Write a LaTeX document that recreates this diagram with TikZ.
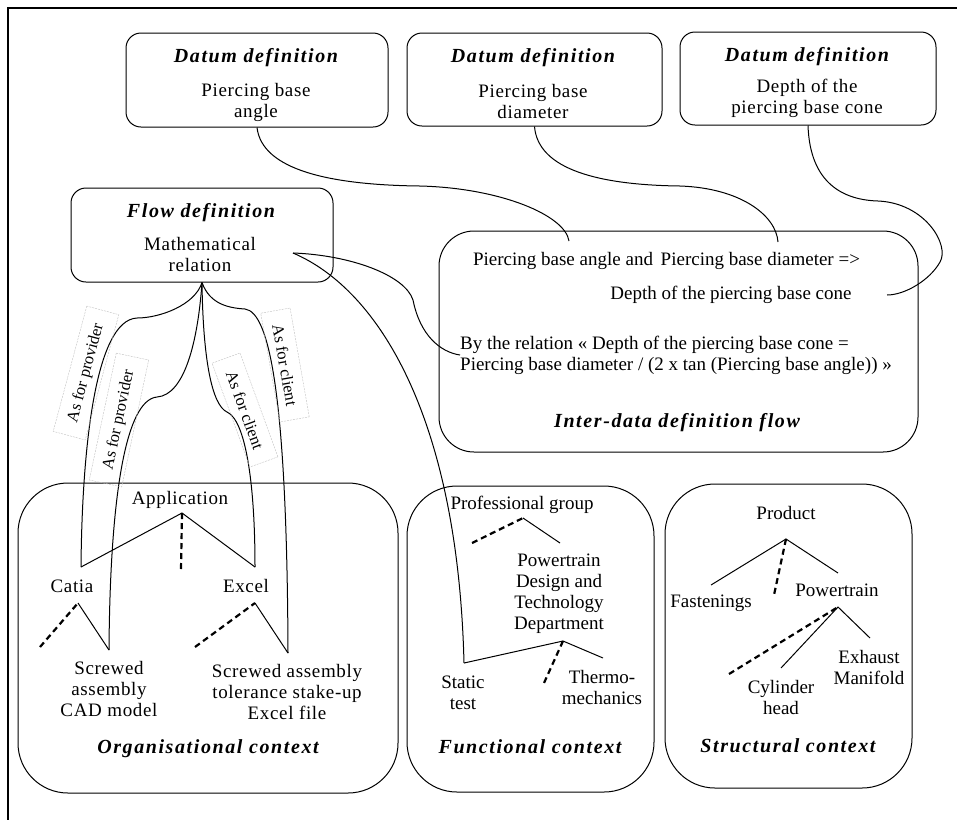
\documentclass[tikz,border=0pt]{standalone}
\usepackage{fontspec}
\setmainfont{Liberation Serif}
\newfontfamily\titlefont[LetterSpace=8]{Liberation Serif}
\newfontfamily\spacedfont[LetterSpace=3.5]{Liberation Serif}

\begin{document}
\begin{tikzpicture}[x=10pt,y=10pt,
    every node/.style={inner sep=0pt, align=center, font=\fontsize{19}{21}\selectfont},
    spaced/.style={font=\spacedfont\fontsize{19}{21}\selectfont},
    dbox/.style={draw, line width=1pt, rounded corners=15pt},
    cbox/.style={draw, line width=1pt, rounded corners=50pt},
    heading/.style={font=\titlefont\fontsize{20}{22}\selectfont\bfseries\itshape},
    roletag/.style={draw=gray!50, dash pattern=on 2pt off 1pt, line width=0.4pt, inner xsep=14pt, inner ysep=9pt, font=\fontsize{16.5}{18}\selectfont},
    link/.style={line width=1pt},
    dashedge/.style={line width=2.2pt, dash pattern=on 6pt off 4pt}]
    \useasboundingbox (0,0) rectangle (95.7,-82);
    \draw [line width=1.2pt] (95.7,-0.8) -- (0.8,-0.8) -- (0.8,-82);

    \node [dbox, minimum width=262pt, minimum height=94pt] (d1) at (25.7,-8.0) {};
    \node [heading] (d1t) at (25.6,-5.8) {Datum definition};
    \node [spaced] (d1v) at (25.6,-10.25) {Piercing base\\angle};
    \node [dbox, minimum width=255pt, minimum height=93pt] (d2) at (53.45,-7.95) {};
    \node [heading] (d2t) at (53.3,-5.75) {Datum definition};
    \node [spaced] (d2v) at (53.3,-10.15) {Piercing base\\diameter};
    \node [dbox, minimum width=256pt, minimum height=93pt] (d3) at (80.8,-7.85) {};
    \node [heading] (d3t) at (80.7,-5.7) {Datum definition};
    \node [spaced] (d3v) at (80.7,-9.8) {Depth of the\\piercing base cone};

    \node [dbox, minimum width=262pt, minimum height=94pt] (fd) at (20.2,-23.5) {};
    \node [heading] (fdt) at (20.1,-21.3) {Flow definition};
    \node [spaced] (fdv) at (20.0,-25.45) {Mathematical\\relation};
    \coordinate (fout) at (29.3,-25.3);

    \node [dbox, rounded corners=35pt, minimum width=479pt, minimum height=221pt] (idf) at (67.85,-34.15) {};
    \node (ida) at (66.65,-26.1) {Piercing base angle and\hspace{3pt} Piercing base diameter =>};
    \node (idb) at (73.1,-29.5) {Depth of the piercing base cone};
    \node [anchor=west, align=left] (rel) at (46.0,-35.5) {By the relation « Depth of the piercing base cone =\\Piercing base diameter / (2 x tan (Piercing base angle)) »};
    \node [heading] (idt) at (67.7,-42.3) {Inter-data definition flow};
    \coordinate (angIn) at (56.9,-24.1);
    \coordinate (diaIn) at (77.8,-24.2);
    \coordinate (coneIn) at (88.7,-29.5);

    \node [cbox, minimum width=380pt, minimum height=310pt] (org) at (20.8,-63.8) {};
    \node [spaced] (app) at (18.0,-50.0) {Application};
    \coordinate (appA) at (18.2,-51.3);
    \coordinate (catU) at (8.1,-56.7);
    \coordinate (excU) at (25.5,-56.7);
    \coordinate (appD) at (18.1,-57.0);
    \node [spaced] (cat) at (7.2,-58.6) {Catia};
    \coordinate (catA) at (7.8,-60.3);
    \coordinate (catD) at (4.0,-64.7);
    \coordinate (cadU) at (10.9,-65.0);
    \node [spaced] (exc) at (24.6,-58.6) {Excel};
    \coordinate (excA) at (25.5,-60.3);
    \coordinate (excD) at (19.5,-64.7);
    \coordinate (xlsU) at (28.8,-65.3);
    \node [spaced] (cad) at (10.9,-68.9) {Screwed\\assembly\\CAD model};
    \node [spaced] (xls) at (28.7,-69.2) {Screwed assembly\\tolerance stake-up\\Excel file};
    \node [heading] (orgt) at (20.8,-74.9) {Organisational context};

    \node [cbox, minimum width=247pt, minimum height=306pt] (fun) at (53.05,-63.9) {};
    \node (pg) at (52.2,-50.5) {Professional group};
    \coordinate (pgA) at (52.3,-51.8);
    \coordinate (pgD) at (47.2,-54.3);
    \coordinate (pgR) at (56.0,-54.3);
    \node (ptd) at (55.9,-59.35) {Powertrain\\Design and\\Technology\\Department};
    \coordinate (ptdA) at (56.3,-64.1);
    \coordinate (stU) at (46.4,-66.3);
    \coordinate (ptdD) at (54.4,-68.3);
    \coordinate (thU) at (60.3,-65.8);
    \node (st) at (46.3,-69.25) {Static\\test};
    \node (th) at (60.2,-68.7) {Thermo-\\mechanics};
    \node [heading] (funt) at (53.0,-74.7) {Functional context};

    \node [cbox, minimum width=247pt, minimum height=304pt] (str) at (78.85,-63.6) {};
    \node (prod) at (78.6,-51.3) {Product};
    \coordinate (prodA) at (78.6,-53.9);
    \coordinate (fasU) at (71.1,-58.5);
    \coordinate (prodD) at (77.4,-59.5);
    \coordinate (pwU) at (83.8,-57.3);
    \node (fas) at (71.1,-60.3) {Fastenings};
    \node (pw) at (83.7,-59.0) {Powertrain};
    \coordinate (pwA) at (83.8,-60.7);
    \coordinate (pwD) at (72.9,-67.4);
    \coordinate (cyU) at (78.1,-66.8);
    \coordinate (exU) at (87.0,-63.8);
    \node (cy) at (78.1,-69.75) {Cylinder\\head};
    \node (ex) at (86.9,-66.7) {Exhaust\\Manifold};
    \node [heading] (strt) at (78.8,-74.6) {Structural context};

    \draw [link] (catU) -- (appA) -- (excU);
    \draw [dashedge] (appA) -- (appD);
    \draw [dashedge] (catD) -- (catA);
    \draw [link] (catA) -- (cadU);
    \draw [dashedge] (excD) -- (excA);
    \draw [link] (excA) -- (xlsU);
    \draw [dashedge] (pgD) -- (pgA);
    \draw [link] (pgA) -- (pgR);
    \draw [link] (stU) -- (ptdA) -- (thU);
    \draw [dashedge] (ptdA) -- (ptdD);
    \draw [link] (fasU) -- (prodA) -- (pwU);
    \draw [dashedge] (prodA) -- (prodD);
    \draw [dashedge] (pwD) -- (pwA);
    \draw [link] (cyU) -- (pwA) -- (exU);

    \draw [link] (d1.south) .. controls (26.2,-17.0) and (33.0,-18.5) .. (42.0,-18.6) .. controls (50.0,-18.8) and (56.5,-21.5) .. (angIn);
    \draw [link] (d2.south) .. controls (53.8,-17.0) and (60.0,-18.5) .. (68.0,-18.6) .. controls (74.0,-18.8) and (77.6,-21.5) .. (diaIn);
    \draw [link] (d3.south) .. controls (81.0,-18.5) and (84.5,-20.0) .. (87.8,-20.1) .. controls (92.5,-20.3) and (95.0,-24.5) .. (94.0,-26.2) .. controls (93.0,-28.0) and (90.5,-29.5) .. (coneIn);
    \draw [link] (fout) .. controls (35.0,-25.5) and (40.5,-27.5) .. (41.3,-30.0) .. controls (42.0,-33.5) and (44.0,-35.2) .. (rel.west);
    \draw [link] (fout) .. controls (38.0,-29.0) and (45.8,-42.0) .. (stU);

    \draw [link] (fd.south) .. controls (19.5,-30.5) and (16.0,-31.8) .. (13.7,-31.8) .. controls (9.5,-32.0) and (8.2,-45.0) .. (catU);
    \draw [link] (fd.south) .. controls (19.8,-34.0) and (18.5,-39.5) .. (15.7,-39.7) .. controls (12.5,-40.0) and (11.0,-50.0) .. (cadU);
    \draw [link] (fd.south) .. controls (20.3,-36.0) and (21.2,-40.5) .. (22.7,-41.2) .. controls (24.5,-42.0) and (25.5,-48.0) .. (excU);
    \draw [link] (fd.south) .. controls (21.0,-30.5) and (23.0,-30.8) .. (24.5,-30.9) .. controls (27.0,-31.2) and (28.7,-40.0) .. (xlsU);

    \node [roletag, rotate=75] (pv1) at (8.6,-37.3) {As for provider};
    \node [roletag, rotate=78] (pv2) at (11.9,-42.0) {As for provider};
    \node [roletag, rotate=-70] (cl1) at (24.5,-41.0) {As for client};
    \node [roletag, rotate=-80] (cl2) at (28.5,-36.5) {As for client};
\end{tikzpicture}
\end{document}
